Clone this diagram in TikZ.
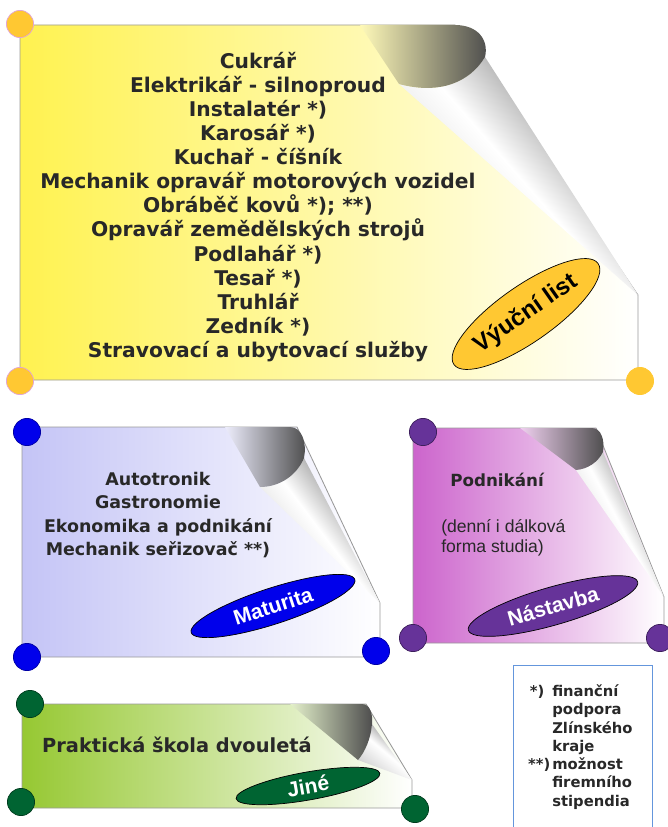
\documentclass[tikz,border=0pt]{standalone}
\usepackage{fontspec}
\setmainfont{DejaVu Sans}
\newfontfamily\tagfont{Liberation Sans}
\usepackage{tikz}
\usetikzlibrary{shapes.geometric}
\definecolor{ink}{RGB}{40,40,40}
\definecolor{vlpage}{RGB}{255,242,80}
\definecolor{vldot}{RGB}{255,200,50}
\definecolor{vlrim}{RGB}{225,165,215}
\definecolor{mapage}{RGB}{196,196,246}
\definecolor{madot}{RGB}{0,0,235}
\definecolor{napage}{RGB}{204,100,204}
\definecolor{nadot}{RGB}{102,51,153}
\definecolor{jipage}{RGB}{150,200,50}
\definecolor{jidot}{RGB}{0,100,50}
\definecolor{legendline}{RGB}{100,150,220}
\tikzstyle{page}=[draw=black!40, line width=0.6pt]
\tikzstyle{cone}=[top color=black!20, bottom color=black!60, middle color=white]
\tikzstyle{corner}=[circle, inner sep=0pt, minimum size=0.68cm, line width=0.5pt]
\tikzstyle{tag}=[ellipse, draw=black, line width=0.5pt, inner sep=0pt, text=white, font=\tagfont\bfseries\fontsize{15}{15}\selectfont]

\begin{document}
\begin{tikzpicture}[x=0.025cm, y=-0.025cm]
            \useasboundingbox (0,0) rectangle (668,827);

            %%%%% Výuční list
            \path[page, left color=vlpage, right color=white] (20,25) -- (455,25) -- (638,295) -- (638,380) -- (20,380) -- cycle;
            \path[cone, shading angle=131] (399,84) .. controls (440,95) and (470,82) .. (485,57) -- (638,295) -- cycle;
            \path[left color=vlpage!40!white, right color=black!70] (360,25) -- (455,25) .. controls (478,25) and (489,40) .. (485,57) .. controls (470,82) and (440,95) .. (399,84) -- cycle;
            \node[corner, fill=vldot, draw=vlrim] (vl-nw) at (20,24) {};
            \node[corner, fill=vldot, draw=vlrim] (vl-sw) at (20,381) {};
            \node[corner, fill=vldot, draw=vldot] (vl-se) at (640,381) {};
            \node[text=ink, align=center, font=\bfseries\fontsize{14.4}{17.1}\selectfont] (vl-list) at (258,207)
                {Cukrář\\ Elektrikář - silnoproud\\ Instalatér *)\\ Karosář *)\\ Kuchař - číšník\\
                 Mechanik opravář motorových vozidel\\ Obráběč kovů *); **)\\ Opravář zemědělských strojů\\
                 Podlahář *)\\ Tesař *)\\ Truhlář\\ Zedník *)\\ Stravovací a ubytovací služby};
            \node[tag, fill=vldot, text=black, rotate=35, minimum width=4.4cm, minimum height=1.4cm,
                  font=\tagfont\bfseries\fontsize{17}{17}\selectfont] (vl-tag) at (526,314) {Výuční list};

            %%%%% Maturita
            \path[page, left color=mapage, right color=white] (22,427) -- (297,427) -- (380,603) -- (380,657) -- (22,657) -- cycle;
            \path[cone, shading angle=127] (260,487) .. controls (280,487) and (297,475) .. (304,458) -- (380,603) -- cycle;
            \path[left color=mapage!30!white, right color=black!70] (225,427) -- (290,427) .. controls (302,427) and (307,443) .. (304,458) .. controls (297,475) and (280,487) .. (260,487) -- cycle;
            \node[corner, fill=madot, draw=madot!70!black] (ma-nw) at (27,432) {};
            \node[corner, fill=madot, draw=madot!70!black] (ma-sw) at (27,657) {};
            \node[corner, fill=madot, draw=madot!70!black] (ma-se) at (376,651) {};
            \node[text=ink, align=center, font=\bfseries\fontsize{12.4}{16.6}\selectfont] (ma-list) at (158,515)
                {Autotronik\\ Gastronomie\\ Ekonomika a podnikání\\ Mechanik seřizovač **)};
            \node[tag, fill=madot, rotate=18, minimum width=4.3cm, minimum height=0.9cm] (ma-tag) at (273,606) {Maturita};

            %%%%% Nástavba
            \path[page, left color=napage, right color=white] (413,428) -- (596,428) -- (664,597) -- (664,643) -- (413,643) -- cycle;
            \path[cone, shading angle=118] (576,470) .. controls (588,469) and (598,462) .. (603,452) -- (664,597) -- cycle;
            \path[left color=napage!30!white, right color=black!70] (520,428) -- (592,428) .. controls (601,428) and (605,440) .. (603,452) .. controls (598,462) and (588,469) .. (576,470) -- cycle;
            \node[corner, fill=nadot, draw=nadot!60!black] (na-nw) at (423,432) {};
            \node[corner, fill=nadot, draw=nadot!60!black] (na-sw) at (413,638) {};
            \node[corner, fill=nadot, draw=nadot!60!black] (na-se) at (660,638) {};
            \node[text=ink, font=\bfseries\fontsize{11.9}{14}\selectfont] (na-title) at (497,480) {Podnikání};
            \node[text=ink, anchor=west, align=left, inner sep=0pt, font=\tagfont\fontsize{12.5}{14.2}\selectfont] (na-note) at (441,538)
                {(denní i dálková\\ forma studia)};
            \node[tag, fill=nadot, rotate=16, minimum width=4.4cm, minimum height=0.95cm] (na-tag) at (553,606) {Nástavba};

            %%%%% Jiné
            \path[page, left color=jipage, right color=white] (22,704) -- (366,704) -- (412,780) -- (412,808) -- (22,808) -- cycle;
            \path[cone, shading angle=140] (358,760) .. controls (365,752) and (371,738) .. (372,724) -- (412,780) -- cycle;
            \path[left color=jipage!25!white, right color=black!70] (290,704) -- (362,704) .. controls (370,704) and (373,714) .. (372,724) .. controls (371,738) and (365,752) .. (358,760) -- cycle;
            \node[corner, fill=jidot, draw=jidot!60!black] (ji-nw) at (30,704) {};
            \node[corner, fill=jidot, draw=jidot!60!black] (ji-sw) at (21,802) {};
            \node[corner, fill=jidot, draw=jidot!60!black] (ji-se) at (415,809) {};
            \node[text=ink, font=\bfseries\fontsize{13.8}{16}\selectfont] (ji-title) at (177,745) {Praktická škola dvouletá};
            \node[tag, fill=jidot, rotate=10, minimum width=3.65cm, minimum height=0.7cm] (ji-tag) at (308,786) {Jiné};

            %%%%% vysvětlivky
            \draw[legendline, line width=0.7pt] (513,840) -- (513,665) -- (652,665) -- (652,840);
            \node[text=ink, anchor=west, align=left, inner sep=0pt, font=\bfseries\fontsize{10.5}{12.95}\selectfont] (legend) at (552,747)
                {\llap{*)\hspace{0.2cm}}finanční\\ podpora\\ Zlínského\\ kraje\\ \llap{**)\hspace{0.05cm}}možnost\\ firemního\\ stipendia};
\end{tikzpicture}
\end{document}
